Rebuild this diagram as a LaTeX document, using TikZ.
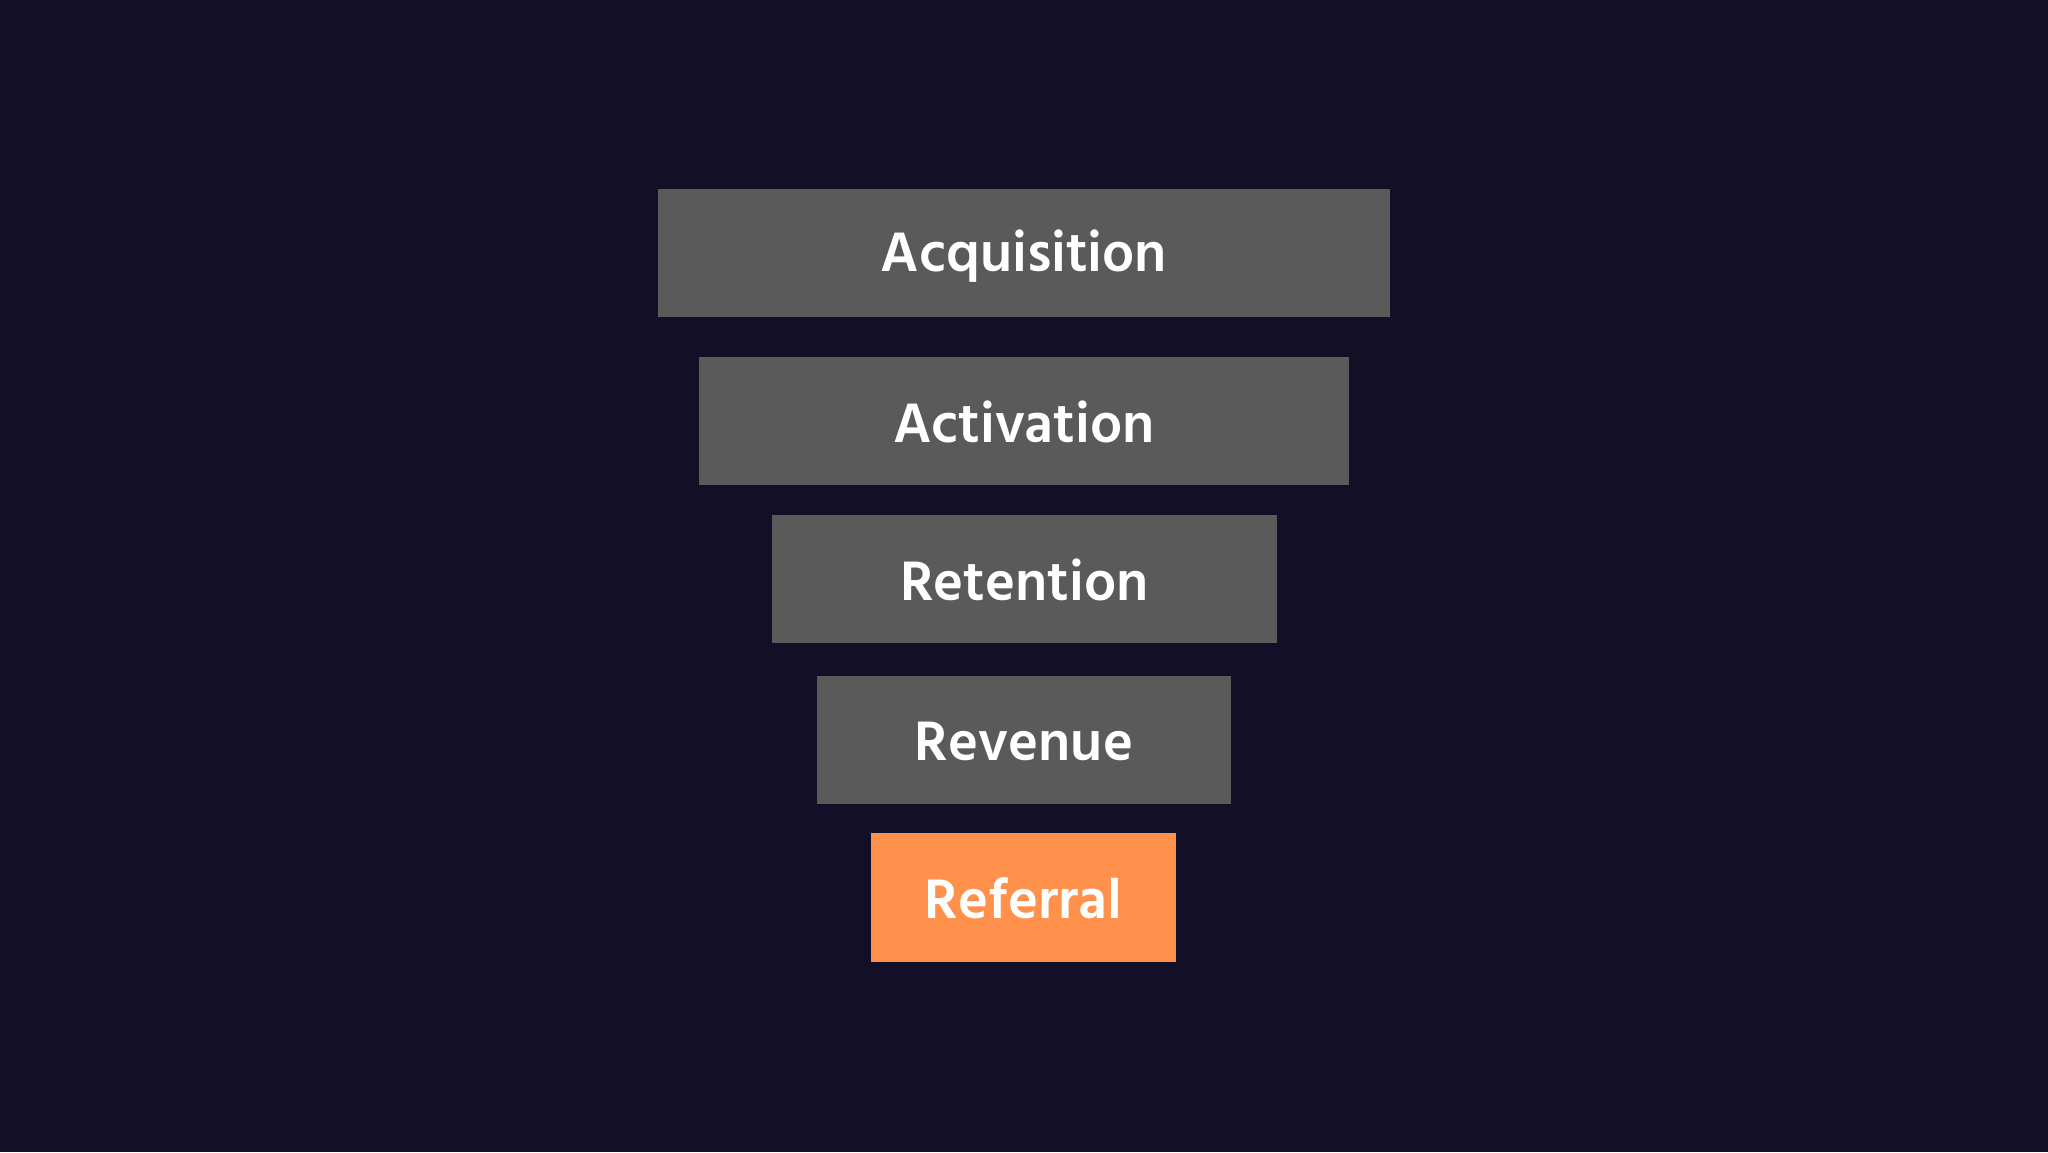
\documentclass[tikz,border=0pt]{standalone}
\usepackage{fontspec}
\setmainfont{Hind Madurai}
\definecolor{bg}{HTML}{120F26}
\definecolor{boxgray}{HTML}{5A5A5A}
\definecolor{boxorange}{HTML}{FF914D}
\begin{document}
\begin{tikzpicture}[x=1pt,y=-1pt,
  stage/.style={fill=boxgray, draw=none, text=white, font=\fontsize{57}{60}\selectfont\bfseries, inner sep=0pt},
  hot/.style={stage, fill=boxorange}]
\fill[bg] (0,0) rectangle (2048,1152);
\useasboundingbox (0,0) rectangle (2048,1152);
\fill[boxgray] (658,189) rectangle (1390,317);
\node[stage] (acq) at (1024,256) {Acquisition};
\fill[boxgray] (699,357) rectangle (1349,485);
\node[stage] (act) at (1024,422) {Activation};
\fill[boxgray] (772,515) rectangle (1277,643);
\node[stage] (ret) at (1024.5,580) {Retention};
\fill[boxgray] (817,676) rectangle (1231,804);
\node[stage] (rev) at (1024,741) {Revenue};
\fill[boxorange] (871,833) rectangle (1176,962);
\node[hot] (ref) at (1023.5,898) {Referral};
\end{tikzpicture}
\end{document}
